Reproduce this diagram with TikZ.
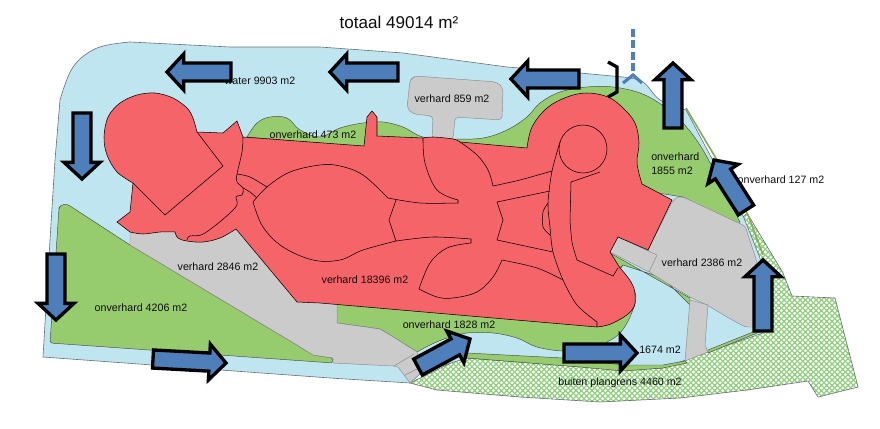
\documentclass[tikz,border=0pt]{standalone}
\usepackage{fontspec}
\setmainfont{Liberation Sans}
\usetikzlibrary{calc,patterns}
\definecolor{watercol}{HTML}{BFE6F0}
\definecolor{greencol}{HTML}{97CC6E}
\definecolor{redcol}{HTML}{F56468}
\definecolor{greycol}{HTML}{CBCBCB}
\definecolor{bluecol}{HTML}{4F7FBB}
\definecolor{hatchcol}{HTML}{8FCF7D}
\definecolor{edgecol}{HTML}{6A6F70}
\pgfdeclarepatternformonly{plangrid}{\pgfqpoint{-1pt}{-1pt}}{\pgfqpoint{5pt}{5pt}}{\pgfqpoint{4pt}{4pt}}{
	\pgfsetlinewidth{0.8pt}
	\pgfpathmoveto{\pgfqpoint{-1pt}{-1pt}}
	\pgfpathlineto{\pgfqpoint{5pt}{5pt}}
	\pgfpathmoveto{\pgfqpoint{-1pt}{5pt}}
	\pgfpathlineto{\pgfqpoint{5pt}{-1pt}}
	\pgfusepath{stroke}
}
\tikzset{
	water/.style={fill=watercol, draw=edgecol, line width=0.45pt},
	grass/.style={fill=greencol, draw=black!70, line width=0.35pt},
	paved/.style={fill=greycol, draw=black!45, line width=0.35pt},
	built/.style={fill=redcol, draw=black, line width=0.4pt},
	seam/.style={draw=black, line width=0.4pt},
	area/.style={font=\fontsize{8}{10}\selectfont, text=black!95, inner sep=0pt},
	flow/.style={fill=bluecol, draw=black, line width=2.5pt, miter limit=10}
}
\def\blockarrow(#1)(#2){
	\coordinate (t) at (#1);
	\coordinate (h) at (#2);
	\coordinate (b) at ($(h)!12.5pt!(t)$);
	\draw[flow] ($(t)!6.8pt!90:(h)$) -- ($(b)!6.8pt!90:(h)$) -- ($(b)!13.5pt!90:(h)$) -- (h) -- ($(b)!13.5pt!-90:(h)$) -- ($(b)!6.8pt!-90:(h)$) -- ($(t)!6.8pt!-90:(h)$) -- cycle;
}
\begin{document}
\begin{tikzpicture}[x=0.75pt, y=-0.75pt]
	%%%%% PLAN %%%%%
	\useasboundingbox (0, 0) rectangle (880, 428);

	% outside the plan boundary
	\draw[draw=edgecol, line width=0.45pt, pattern=plangrid, pattern color=hatchcol] (410, 383) -- (437, 390) -- (520, 397) -- (600, 402) -- (680, 398) -- (747, 390) -- (808, 381) -- (818, 397) -- (858, 387) -- (835, 298) -- (792, 296) -- (783, 273) -- (747, 213) -- (735, 225) -- (757, 300) -- (700, 355) -- (467, 355) -- cycle;

	% water
	\draw[water] (43, 357) -- (50, 240) -- (55, 160) -- (60, 100) -- plot[smooth, tension=0.6] coordinates {(60, 100) (73, 67) (97, 48) (130, 42)} -- (230, 47) -- (320, 47) -- (403, 53) -- (507, 67) -- (580, 73) -- (623, 77) -- plot[smooth, tension=0.6] coordinates {(623, 77) (643, 82) (660, 100) (686, 110)} -- (710, 155) -- (744, 218) -- (760, 258) -- (763, 333) -- (708, 352) -- (663, 368) -- (623, 370) -- (467, 358) -- (422, 372) -- (410, 383) -- (330, 378) -- cycle;
	\draw[draw=greencol!85!black, line width=1.2pt] (686, 108) -- (714, 155) -- (748, 215) -- (763, 255);

	% grass
	\draw[grass, rounded corners=2pt] (59, 208) -- (61, 205) -- (67, 204) -- (130, 245) -- (297, 345) -- (313, 355) -- (333, 358) -- (333, 363) -- (50, 343) -- cycle;
	\draw[grass] (247, 137) -- plot[smooth, tension=0.6] coordinates {(247, 137) (257, 123) (270, 117) (287, 118) (300, 130) (320, 137) (340, 128) (363, 123) (383, 122) (403, 127) (423, 137) (453, 139) (483, 138) (507, 130) (527, 117) (540, 103) (560, 92) (587, 87) (613, 87) (640, 93) (662, 105) (683, 123) (703, 150) (722, 187) (740, 222)} -- (740, 227) -- (683, 197) -- (640, 190) -- (600, 150) -- (400, 150) -- cycle;
	\draw[grass] (337, 300) -- (337, 323) -- (380, 329) -- (395, 338) -- (417, 352) -- plot[smooth, tension=0.6] coordinates {(417, 352) (430, 345) (447, 338) (467, 333) (493, 333) (517, 338) (537, 347) (563, 351) (590, 349) (607, 342) (620, 333) (630, 317) (636, 297) (630, 285) (617, 270)} -- (623, 265) -- (600, 300) -- (500, 300) -- cycle;
	\draw[grass] (610, 253) -- (690, 298) -- (690, 305) -- (663, 278) -- (623, 265) -- (617, 270) -- cycle;
	\draw[grass] (467, 353) -- (563, 358) -- (623, 365) -- (663, 365) -- (685, 361) -- (687, 363) -- (663, 368) -- (623, 371) -- (580, 367) -- (467, 358) -- cycle;
	\draw[grass] (708, 350) -- (753, 332) -- (762, 331) -- (708, 353) -- cycle;

	% paved
	\draw[paved, rounded corners=3pt] (415, 76) -- (497, 82) -- (503, 88) -- (502, 120) -- (455, 117) -- (453, 140) -- (432, 140) -- (433, 116) -- (413, 114) -- (407, 108) -- (410, 80) -- cycle;
	\draw[paved] (130, 232) -- (130, 245) -- (297, 345) -- (313, 355) -- (333, 358) -- (333, 363) -- (393, 366) -- (398, 367) -- (410, 383) -- (422, 372) -- (417, 352) -- (395, 338) -- (380, 329) -- (337, 323) -- (337, 300) -- (240, 225) -- cycle;
	\draw[paved] (394, 366) -- (414, 354);
	\draw[paved] (405, 375) -- (419, 368);
	\draw[paved, rounded corners=2pt] (672, 202) -- (677, 197) -- (683, 197) -- (745, 226) -- (757, 262) -- (757, 327) -- (745, 327) -- (727, 317) -- (707, 305) -- (690, 297) -- (649, 272) -- (648, 250) -- cycle;
	\draw[paved] (690, 300) -- (708, 305) -- (705, 345) -- (708, 352) -- (685, 361) -- cycle;
	\draw[paved] (618, 237) -- (657, 255) -- (649, 272) -- (610, 252) -- cycle;

	% built up
	\draw[built] (197, 132) -- (223, 133) -- (237, 121) -- (243, 137) -- (364, 146) -- (367, 117) -- (372, 111) -- (377, 117) -- (377, 136) -- (423, 138) -- plot[smooth, tension=0.6] coordinates {(423, 138) (433, 137) (453, 139) (460, 142)} -- (527, 148) -- plot[smooth, tension=0.6] coordinates {(527, 148) (532, 127) (547, 108) (567, 97) (587, 93) (608, 97) (623, 108) (635, 123) (639, 143) (637, 163) (642, 184)} -- (672, 200) -- (648, 250) -- (618, 237) -- (610, 252) -- (620, 268) -- plot[smooth, tension=0.7] coordinates {(620, 268) (631, 282) (635, 295) (632, 310) (613, 323) (597, 327)} -- (320, 303) -- (297, 302) -- (236, 229) -- plot[smooth, tension=0.6] coordinates {(236, 229) (220, 238) (203, 242) (187, 241) (178, 238) (175, 232)} -- plot[smooth, tension=0.6] coordinates {(175, 232) (160, 232) (143, 234) (130, 232)} -- (117, 222) -- (130, 212) -- (133, 183) -- plot[smooth, tension=0.55] coordinates {(133, 183) (117, 172) (107, 155) (104, 137) (108, 117) (120, 103) (137, 95) (155, 93) (173, 98) (187, 108) (193, 118) (197, 132)} -- cycle;

	% west blob
	\draw[seam] (133, 183) -- (165, 215) -- (223, 166) -- (197, 132);
	\draw[seam] plot[smooth, tension=0.6] coordinates {(243, 137) (242, 152) (237, 174) (237, 182) (243, 188) (242, 195) (236, 197) (235, 208) (205, 233) (190, 236) (187, 240)};
	\draw[seam] plot[smooth] coordinates {(237, 174) (250, 177) (267, 187)};
	\draw[seam] plot[smooth] coordinates {(243, 188) (250, 192) (257, 198)};

	% central lens
	\draw[seam] plot[smooth, tension=0.6] coordinates {(253, 202) (267, 187) (290, 172) (320, 165) (340, 166) (363, 175) (388, 198)};
	\draw[seam] plot[smooth, tension=0.6] coordinates {(253, 202) (263, 227) (283, 247) (313, 260) (340, 260) (363, 250) (396, 241)};
	\draw[seam] plot[smooth, tension=0.5] coordinates {(388, 198) (420, 203) (458, 203)} -- (458, 200);
	\draw[seam] plot[smooth, tension=0.6] coordinates {(458, 200) (437, 190) (425, 163) (423, 138)};
	\draw[seam] (396, 200) -- (389, 220) -- (396, 241);

	% south petal
	\draw[seam] plot[smooth, tension=0.5] coordinates {(396, 241) (433, 237) (471, 239)} -- (471, 243);
	\draw[seam] plot[smooth, tension=0.6] coordinates {(471, 243) (447, 248) (430, 263) (419, 289)};
	\draw[seam] plot[smooth, tension=0.6] coordinates {(419, 289) (437, 297) (453, 298) (477, 292) (493, 277) (502, 260)};
	\draw[seam] plot[smooth, tension=0.6] coordinates {(502, 260) (537, 268) (563, 280)};

	% north petal
	\draw[seam] plot[smooth, tension=0.6] coordinates {(460, 142) (477, 155) (488, 170) (493, 186)};
	\draw[seam] plot[smooth, tension=0.4] coordinates {(493, 186) (520, 180) (552, 171)};
	\draw[seam] (550, 191) -- (497, 202) -- (503, 220) -- (497, 240) -- (553, 252);

	% east road and circle
	\draw[seam] (583, 149) circle (24);
	\draw[seam] plot[smooth, tension=0.5] coordinates {(560, 142) (552, 171) (548, 203) (550, 227) (553, 252) (563, 280) (577, 305) (597, 322)} -- (597, 327);
	\draw[seam] plot[smooth] coordinates {(548, 203) (543, 212) (543, 227) (550, 235)};
	\draw[seam] (600, 172) -- (571, 182) -- (570, 220) -- plot[smooth] coordinates {(570, 220) (572, 242) (577, 260)} -- (613, 276) -- (618, 268);

	% labels
	\node[area, font=\fontsize{12.8}{14}\selectfont] (total) at (399, 22) {totaal 49014 m²};
	\node[area] (water) at (260, 81) {water 9903 m2};
	\node[area] (grassnorth) at (313, 135) {onverhard 473 m2};
	\node[area] (pavednorth) at (452, 99) {verhard 859 m2};
	\node[area, align=left, anchor=north west, font=\fontsize{8}{10.5}\selectfont] (grasseast) at (651, 153) {onverhard\\1855 m2};
	\node[area] (grassstrip) at (781, 180) {onverhard 127 m2};
	\node[area] (pavedeast) at (702, 263) {verhard 2386 m2};
	\node[area] (pavedwest) at (218, 267) {verhard 2846 m2};
	\node[area] (grasswest) at (141, 308) {onverhard 4206 m2};
	\node[area] (builtmain) at (365, 280) {verhard 18396 m2};
	\node[area] (grasssouth) at (449, 325) {onverhard 1828 m2};
	\node[area] (lake) at (660, 350) {1674 m2};
	\node[area] (outside) at (620, 383) {buiten plangrens 4460 m2};

	% flow arrows
	\blockarrow(231, 72)(167, 72)
	\blockarrow(398, 72)(330, 72)
	\blockarrow(579, 79)(511, 79)
	\blockarrow(673, 128)(673, 63)
	\blockarrow(746, 210)(714, 160)
	\blockarrow(82, 113)(82, 179)
	\blockarrow(56, 254)(56, 320)
	\blockarrow(153, 359)(226, 363)
	\blockarrow(418, 367)(470, 339)
	\blockarrow(564, 353)(637, 353)
	\blockarrow(763, 331)(763, 260)

	% inlet
	\draw[black, line width=2.5pt] (608, 62) -- (617, 67) -- (617, 92) -- (608, 97);
	\draw[bluecol, line width=2.4pt, dash pattern=on 6pt off 2.5pt] (633, 29) -- (633, 75);
	\draw[bluecol, line width=2.4pt] (623, 83) -- (633, 75) -- (642, 83);
	%%%%% END %%%%%
\end{tikzpicture}
\end{document}
